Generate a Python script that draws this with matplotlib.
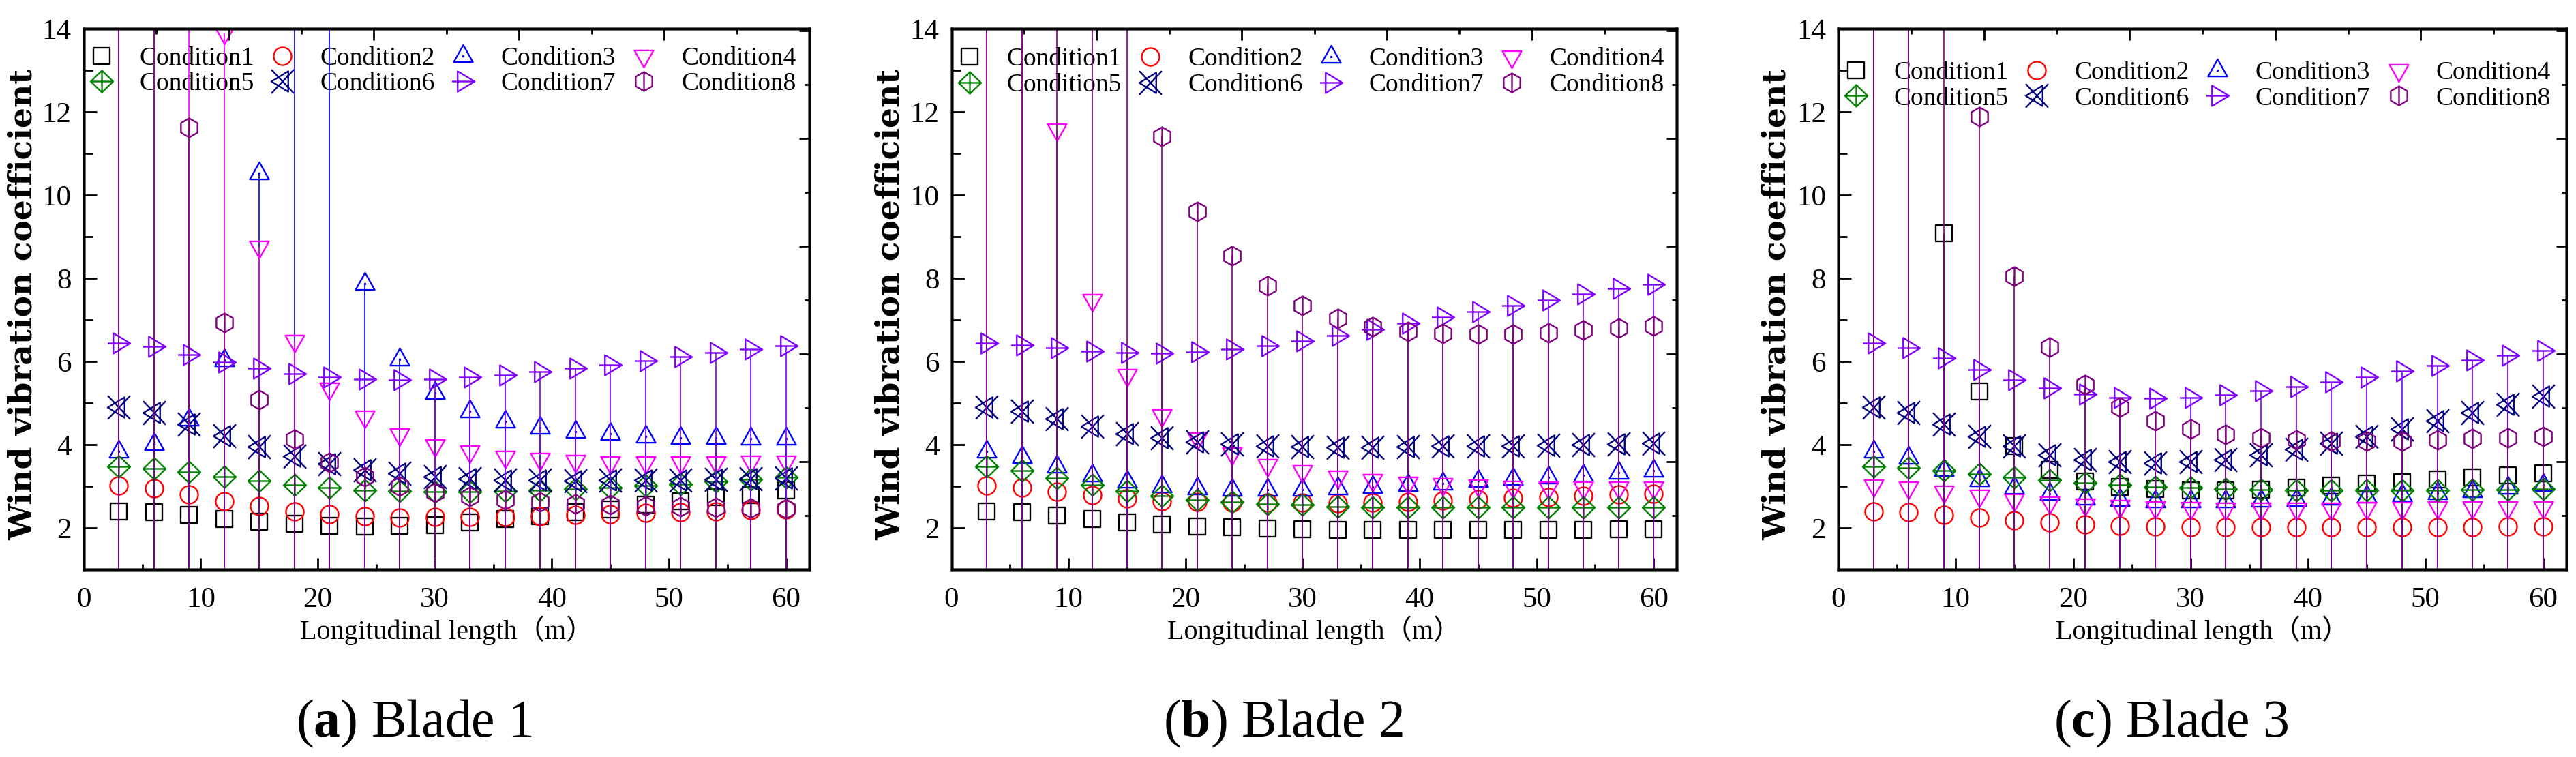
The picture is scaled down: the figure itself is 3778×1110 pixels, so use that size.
import numpy as np
import matplotlib
matplotlib.use('Agg')
import matplotlib.pyplot as plt
from matplotlib.path import Path
from matplotlib.ticker import MultipleLocator

# fonts
plt.rcParams['font.family'] = ['Liberation Serif', 'Noto Sans CJK SC']
plt.rcParams['mathtext.fontset'] = 'custom'
plt.rcParams['mathtext.rm'] = 'Liberation Serif'
plt.rcParams['mathtext.bf'] = 'Liberation Serif:bold'

# ---- data ----
length = list(range(3, 61, 3))
OFF = 15.5  # points above the 14 limit (drawn as full-height drop lines)

conditions = ['Condition1', 'Condition2', 'Condition3', 'Condition4',
              'Condition5', 'Condition6', 'Condition7', 'Condition8']
colors = ['#000000', '#FF0000', '#0000FF', '#FF00FF',
          '#008000', '#000080', '#8000FF', '#800080']
captions = [r'($\mathbf{a}$) Blade 1', r'($\mathbf{b}$) Blade 2', r'($\mathbf{c}$) Blade 3']

# Blade 1
b1_c1 = [2.40, 2.38, 2.31, 2.22, 2.15, 2.10, 2.05, 2.04, 2.05, 2.07, 2.13, 2.22, 2.28, 2.38, 2.45, 2.56, 2.64, 2.74, 2.79, 2.91]
b1_c2 = [3.02, 2.95, 2.80, 2.64, 2.52, 2.40, 2.33, 2.28, 2.25, 2.26, 2.26, 2.26, 2.28, 2.31, 2.33, 2.36, 2.38, 2.40, 2.42, 2.45]
b1_c3 = [3.83, 4.01, 4.61, 6.03, 10.52, OFF, OFF, 7.87, 6.05, 5.25, 4.80, 4.56, 4.41, 4.31, 4.26, 4.20, 4.17, 4.16, 4.15, 4.15]
b1_c4 = [OFF, OFF, OFF, 13.9, 8.75, 6.50, 5.35, 4.68, 4.25, 3.99, 3.83, 3.71, 3.65, 3.61, 3.58, 3.57, 3.57, 3.58, 3.59, 3.59]
b1_c5 = [3.48, 3.43, 3.34, 3.23, 3.13, 3.03, 2.96, 2.91, 2.89, 2.87, 2.87, 2.89, 2.91, 2.93, 2.97, 3.02, 3.05, 3.11, 3.16, 3.22]
b1_c6 = [4.90, 4.77, 4.50, 4.22, 3.95, 3.73, 3.54, 3.40, 3.32, 3.23, 3.18, 3.15, 3.14, 3.13, 3.14, 3.14, 3.15, 3.16, 3.18, 3.19]
b1_c7 = [6.44, 6.36, 6.17, 5.99, 5.83, 5.70, 5.62, 5.57, 5.56, 5.57, 5.62, 5.67, 5.75, 5.84, 5.92, 6.02, 6.11, 6.21, 6.29, 6.38]
b1_c8 = [OFF, OFF, 11.62, 6.93, 5.09, 4.13, 3.58, 3.23, 3.00, 2.85, 2.75, 2.67, 2.62, 2.58, 2.55, 2.52, 2.51, 2.49, 2.48, 2.46]

# Blade 2
b2_c1 = [2.40, 2.37, 2.30, 2.21, 2.14, 2.09, 2.04, 2.01, 1.98, 1.96, 1.95, 1.95, 1.95, 1.95, 1.95, 1.95, 1.95, 1.95, 1.96, 1.96]
b2_c2 = [3.01, 2.96, 2.87, 2.78, 2.71, 2.64, 2.62, 2.60, 2.60, 2.60, 2.59, 2.60, 2.63, 2.66, 2.69, 2.72, 2.74, 2.77, 2.80, 2.82]
b2_c3 = [3.83, 3.71, 3.48, 3.27, 3.11, 3.00, 2.95, 2.92, 2.92, 2.92, 2.95, 2.98, 3.03, 3.07, 3.13, 3.18, 3.22, 3.27, 3.33, 3.37]
b2_c4 = [OFF, OFF, 11.57, 7.47, 5.67, 4.71, 4.14, 3.78, 3.51, 3.36, 3.23, 3.14, 3.09, 3.05, 3.02, 2.99, 2.97, 2.97, 2.97, 2.96]
b2_c5 = [3.48, 3.37, 3.20, 3.03, 2.88, 2.77, 2.68, 2.62, 2.58, 2.55, 2.51, 2.50, 2.50, 2.50, 2.50, 2.50, 2.50, 2.50, 2.50, 2.50]
b2_c6 = [4.90, 4.81, 4.62, 4.44, 4.27, 4.16, 4.07, 4.01, 3.97, 3.95, 3.93, 3.93, 3.95, 3.96, 3.96, 3.97, 3.99, 4.00, 4.02, 4.04]
b2_c7 = [6.44, 6.40, 6.32, 6.24, 6.21, 6.20, 6.23, 6.29, 6.38, 6.50, 6.63, 6.77, 6.91, 7.06, 7.20, 7.35, 7.48, 7.62, 7.75, 7.86]
b2_c8 = [OFF, OFF, OFF, OFF, OFF, 11.41, 9.61, 8.54, 7.82, 7.34, 7.03, 6.84, 6.72, 6.67, 6.66, 6.66, 6.69, 6.75, 6.80, 6.86]

# Blade 3
b3_c1 = [OFF, OFF, 9.08, 5.28, 3.97, 3.40, 3.11, 2.98, 2.93, 2.90, 2.90, 2.92, 2.97, 3.01, 3.06, 3.10, 3.16, 3.21, 3.26, 3.31]
b3_c2 = [2.40, 2.37, 2.31, 2.25, 2.18, 2.14, 2.09, 2.05, 2.03, 2.02, 2.01, 2.01, 2.01, 2.01, 2.01, 2.02, 2.02, 2.02, 2.03, 2.04]
b3_c3 = [3.83, 3.69, 3.40, 3.15, 2.96, 2.82, 2.71, 2.67, 2.64, 2.64, 2.64, 2.65, 2.67, 2.70, 2.76, 2.79, 2.84, 2.89, 2.97, 3.04]
b3_c4 = [3.02, 2.96, 2.87, 2.77, 2.67, 2.61, 2.56, 2.52, 2.50, 2.48, 2.46, 2.46, 2.46, 2.46, 2.48, 2.48, 2.49, 2.49, 2.50, 2.50]
b3_c5 = [3.48, 3.45, 3.38, 3.29, 3.21, 3.15, 3.08, 3.03, 2.98, 2.96, 2.93, 2.92, 2.91, 2.91, 2.91, 2.91, 2.91, 2.92, 2.92, 2.93]
b3_c6 = [4.90, 4.77, 4.49, 4.19, 3.96, 3.75, 3.64, 3.59, 3.56, 3.59, 3.64, 3.75, 3.89, 4.03, 4.19, 4.38, 4.57, 4.77, 4.97, 5.16]
b3_c7 = [6.44, 6.33, 6.09, 5.81, 5.56, 5.36, 5.21, 5.13, 5.11, 5.13, 5.19, 5.29, 5.40, 5.51, 5.63, 5.77, 5.90, 6.03, 6.15, 6.27]
b3_c8 = [OFF, OFF, OFF, 11.88, 8.05, 6.35, 5.45, 4.90, 4.57, 4.37, 4.25, 4.16, 4.11, 4.08, 4.08, 4.09, 4.11, 4.14, 4.16, 4.19]

blades = [[b1_c1, b1_c2, b1_c3, b1_c4, b1_c5, b1_c6, b1_c7, b1_c8],
          [b2_c1, b2_c2, b2_c3, b2_c4, b2_c5, b2_c6, b2_c7, b2_c8],
          [b3_c1, b3_c2, b3_c3, b3_c4, b3_c5, b3_c6, b3_c7, b3_c8]]

# ---- Origin-like markers ----
UNIT = 2 * 16.5 * 72 / 100.0  # points for a marker spanning +-1


def make_marker(segments):
    # segments: list of (points, closed)
    verts, codes = [], []
    for pts, closed in segments:
        verts.append(pts[0]); codes.append(Path.MOVETO)
        for p in pts[1:]:
            verts.append(p); codes.append(Path.LINETO)
        if closed:
            verts.append(pts[0]); codes.append(Path.CLOSEPOLY)
    verts = np.array(verts, float)
    return Path(verts, codes), np.abs(verts).max() * UNIT


def dot(r=0.03):
    return ([(-r, -r), (r, -r), (r, r), (-r, r)], True)


hexa = [(0.85 * np.cos(np.radians(a)), 0.85 * np.sin(np.radians(a))) for a in range(90, 450, 60)]
markers = [
    make_marker([([(-0.7, -0.7), (0.7, -0.7), (0.7, 0.7), (-0.7, 0.7)], True), dot()]),
    (Path.circle((0, 0), 0.79), 0.79 * UNIT),
    make_marker([([(0, 1.0), (-0.85, -0.52), (0.85, -0.52)], True), dot()]),
    make_marker([([(0, -1.0), (-0.85, 0.52), (0.85, 0.52)], True)]),
    make_marker([([(0, 0.97), (1, 0), (0, -0.97), (-1, 0)], True),
                 ([(-1, 0), (1, 0)], False), ([(0, -0.97), (0, 0.97)], False)]),
    make_marker([([(-1, 0), (0.5, 0.91), (0.5, -0.91)], True),
                 ([(-1, -1.05), (1, 1.05)], False), ([(-1, 1.05), (1, -1.05)], False)]),
    make_marker([([(1, 0), (-0.5, 0.91), (-0.5, -0.91)], True), ([(-1, 0), (1, 0)], False)]),
    make_marker([(hexa, True), ([(0, -0.85), (0, 0.85)], False)]),
]

fig = plt.figure(figsize=(37.78, 11.10), dpi=100)
lefts = [0.0325, 0.3694, 0.7136]
widths = [0.2817, 0.2816, 0.2827]
leg_y = [0.967, 0.965, 0.940]
cap_x = [0.1609, 0.4981, 0.8428]

for k, data in enumerate(blades):
    ax = fig.add_axes([lefts[k], 0.2477, widths[k], 0.7145])
    handles = []
    for i, vals in enumerate(data):
        path, ms = markers[i]
        ax.vlines(length, 0, vals, colors=colors[i], lw=1.2, zorder=2 + 2 * i)
        ln, = ax.plot(length, vals, ls='none', marker=path, ms=ms, mfc='none',
                      mec=colors[i], mew=1.7, zorder=3 + 2 * i, label=conditions[i])
        handles.append(ln)

    ax.set_xlim(0, 62)
    ax.set_ylim(1, 14)
    ax.xaxis.set_major_locator(MultipleLocator(10))
    ax.xaxis.set_minor_locator(MultipleLocator(5))
    ax.yaxis.set_major_locator(MultipleLocator(2))
    ax.yaxis.set_minor_locator(MultipleLocator(1))
    ax.tick_params(which='both', direction='in', width=2, labelsize=31)
    ax.tick_params(axis='y', which='major', length=14, pad=13)
    ax.tick_params(axis='y', which='minor', length=9)
    ax.tick_params(axis='x', which='major', length=12, pad=18)
    ax.tick_params(axis='x', which='minor', length=6)
    for s in ax.spines.values():
        s.set_linewidth(2.5)

    # Origin's mirrored right/top axes carry their own tick spacing
    axr = ax.twinx()
    axr.set_ylim(0, 13 / 2.59)
    axr.yaxis.set_major_locator(MultipleLocator(1))
    axr.yaxis.set_minor_locator(MultipleLocator(0.5))
    axr.tick_params(which='both', direction='in', width=2, labelright=False)
    axr.tick_params(which='major', length=11)
    axr.tick_params(which='minor', length=5)
    axt = ax.twiny()
    axt.set_xlim(0, 5)
    axt.xaxis.set_major_locator(MultipleLocator(1))
    axt.xaxis.set_minor_locator(MultipleLocator(0.5))
    axt.tick_params(which='both', direction='in', width=2, labeltop=False)
    axt.tick_params(which='major', length=12)
    axt.tick_params(which='minor', length=6)
    for a in (axr, axt):
        for s in a.spines.values():
            s.set_linewidth(2.5)

    order = [0, 4, 1, 5, 2, 6, 3, 7]
    ax.legend([handles[j] for j in order], [conditions[j] for j in order],
              ncol=4, loc='upper left', bbox_to_anchor=(0.007, leg_y[k]),
              frameon=False, fontsize=27, handlelength=1.0, handletextpad=0.97,
              columnspacing=0.61, labelspacing=0.08, borderpad=0, borderaxespad=0)

    ax.text(-0.084, 0.49, 'Wind vibration coefficient', rotation=90, ha='center',
            va='center', transform=ax.transAxes, fontsize=34, fontweight='bold',
            family='DejaVu Serif')
    ax.text(0.5, -0.113, 'Longitudinal length（m）', ha='center', va='center',
            transform=ax.transAxes, fontsize=29)
    fig.text(cap_x[k], 0.044, captions[k], ha='center', va='center', fontsize=56)

fig.savefig('out.png', dpi=100)
